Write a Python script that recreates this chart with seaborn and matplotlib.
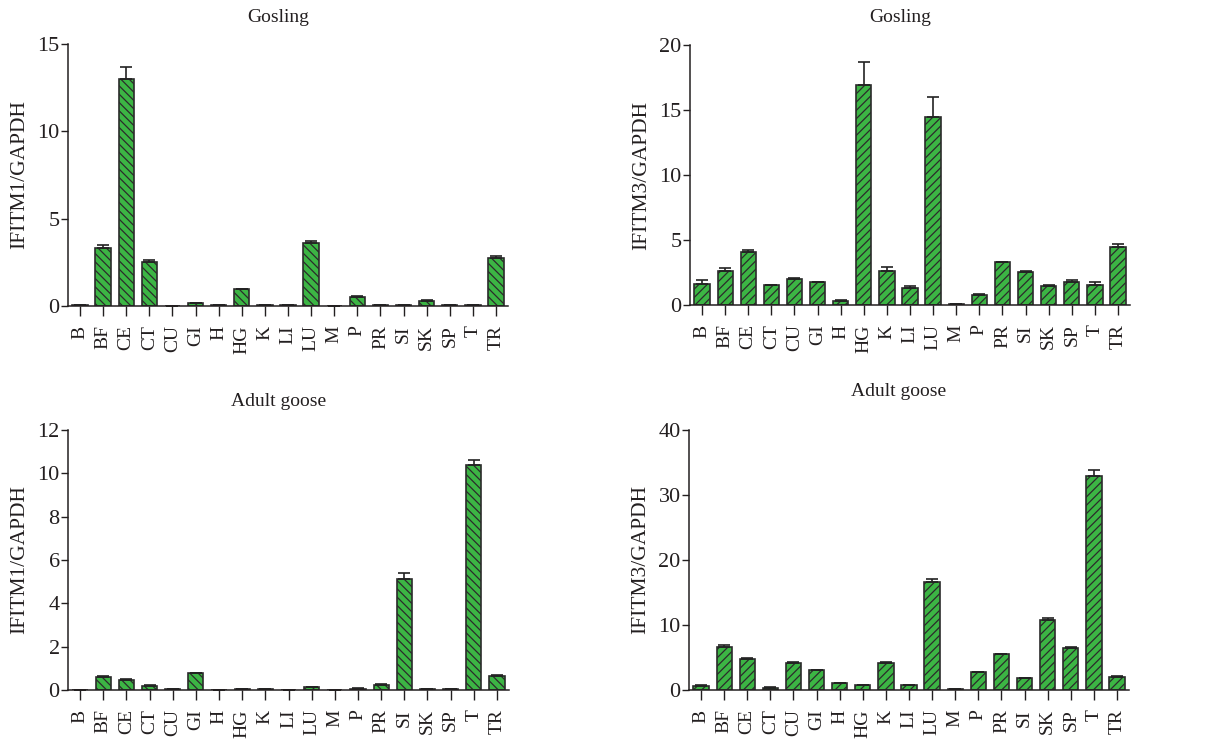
import numpy as np
import pandas as pd
import matplotlib
matplotlib.use("Agg")
import matplotlib.pyplot as plt
import seaborn as sns

tissues = ["B", "BF", "CE", "CT", "CU", "GI", "H", "HG", "K", "LI",
           "LU", "M", "P", "PR", "SI", "SK", "SP", "T", "TR"]

gosling_ifitm1 = [0.05, 3.3, 13.0, 2.53, 0.0, 0.15, 0.05, 0.95, 0.04, 0.04,
                  3.6, 0.0, 0.53, 0.04, 0.04, 0.30, 0.04, 0.03, 2.74]
gosling_ifitm1_err = [0.02, 0.2, 0.7, 0.1, 0.0, 0.02, 0.01, 0.04, 0.01, 0.01,
                      0.11, 0.0, 0.03, 0.01, 0.01, 0.02, 0.01, 0.01, 0.13]

gosling_ifitm3 = [1.64, 2.61, 4.1, 1.51, 2.0, 1.74, 0.33, 16.9, 2.61, 1.28,
                  14.5, 0.08, 0.79, 3.3, 2.54, 1.43, 1.79, 1.56, 4.48]
gosling_ifitm3_err = [0.26, 0.21, 0.1, 0.04, 0.1, 0.05, 0.03, 1.8, 0.33, 0.15,
                      1.53, 0.01, 0.05, 0.04, 0.1, 0.11, 0.13, 0.18, 0.21]

adult_ifitm1 = [0.0, 0.58, 0.48, 0.2, 0.05, 0.77, 0.0, 0.04, 0.04, 0.0,
                0.12, 0.0, 0.06, 0.25, 5.12, 0.05, 0.05, 10.4, 0.66]
adult_ifitm1_err = [0.0, 0.05, 0.03, 0.02, 0.01, 0.03, 0.0, 0.01, 0.01, 0.0,
                    0.02, 0.0, 0.02, 0.02, 0.26, 0.01, 0.01, 0.2, 0.02]

adult_ifitm3 = [0.67, 6.66, 4.77, 0.36, 4.1, 3.02, 1.08, 0.72, 4.15, 0.72,
                16.6, 0.1, 2.77, 5.53, 1.79, 10.75, 6.4, 32.9, 2.05]
adult_ifitm3_err = [0.05, 0.26, 0.1, 0.05, 0.15, 0.1, 0.05, 0.05, 0.1, 0.05,
                    0.5, 0.02, 0.05, 0.05, 0.05, 0.35, 0.26, 0.95, 0.1]

panels = [
    ("Gosling", "IFITM1/GAPDH", gosling_ifitm1, gosling_ifitm1_err, 15, [0, 5, 10, 15], "\\\\\\\\"),
    ("Gosling", "IFITM3/GAPDH", gosling_ifitm3, gosling_ifitm3_err, 20, [0, 5, 10, 15, 20], "////"),
    ("Adult goose", "IFITM1/GAPDH", adult_ifitm1, adult_ifitm1_err, 12, [0, 2, 4, 6, 8, 10, 12], "\\\\\\\\"),
    ("Adult goose", "IFITM3/GAPDH", adult_ifitm3, adult_ifitm3_err, 40, [0, 10, 20, 30, 40], "////"),
]

sns.set_theme(style="ticks")
plt.rcParams["font.family"] = ["Liberation Serif", "DejaVu Serif"]
plt.rcParams["hatch.linewidth"] = 0.9
plt.rcParams["hatch.color"] = "#2b2b2b"

W, H = 1229, 741
fig = plt.figure(figsize=(W / 100, H / 100), dpi=100)

# axes rectangles in pixels: left, top(ymax px), right, bottom(y0 px)
rects = [
    (68, 44, 508, 306),
    (690, 45, 1130, 305),
    (68, 430, 509, 690),
    (689, 430, 1129, 690),
]
title_y = [17, 17, 402, 392]

green = "#3cb544"
edge = "#2b2b2b"
text_c = "#231f20"

for (title, ylab, vals, errs, ymax, yticks, hatch), (l, t, r, b), ty in zip(panels, rects, title_y):
    ax = fig.add_axes([l / W, 1 - b / H, (r - l) / W, (b - t) / H])
    df = pd.DataFrame({"tissue": tissues, "value": vals})
    sns.barplot(data=df, x="tissue", y="value", order=tissues, ax=ax,
                color=green, edgecolor=edge, linewidth=1.2, width=0.66,
                errorbar=None, saturation=1)
    for p in ax.patches:
        p.set_hatch(hatch)
        p.set_facecolor(green)
        p.set_edgecolor(edge)
    pos = np.arange(len(tissues))
    lower = np.zeros(len(errs))
    ax.errorbar(pos, vals, yerr=[lower, errs], fmt="none", ecolor="#222222",
                elinewidth=1.2, capsize=4.5, capthick=1.2, zorder=1)
    ax.set_xlim(-0.52, len(tissues) - 0.48)
    ax.set_ylim(0, ymax)
    ax.set_yticks(yticks)
    ax.set_xlabel("")
    ax.set_ylabel(ylab, fontsize=15.5, color=text_c, labelpad=6)
    ax.tick_params(axis="x", rotation=90, labelsize=14, length=7, width=1,
                   colors=text_c, direction="out", pad=7)
    ax.tick_params(axis="y", labelsize=16, length=5, width=1,
                   colors=text_c, direction="out", pad=1)
    for lbl in ax.get_xticklabels():
        lbl.set_verticalalignment("top")
    sns.despine(ax=ax)
    for s in ["left", "bottom"]:
        ax.spines[s].set_linewidth(1.1)
        ax.spines[s].set_color(text_c)
    fig.text(((l + r) / 2 - 10) / W, 1 - ty / H, title, ha="center", va="center",
             fontsize=14, color=text_c)

fig.savefig("out.png", dpi=100, facecolor="white")
